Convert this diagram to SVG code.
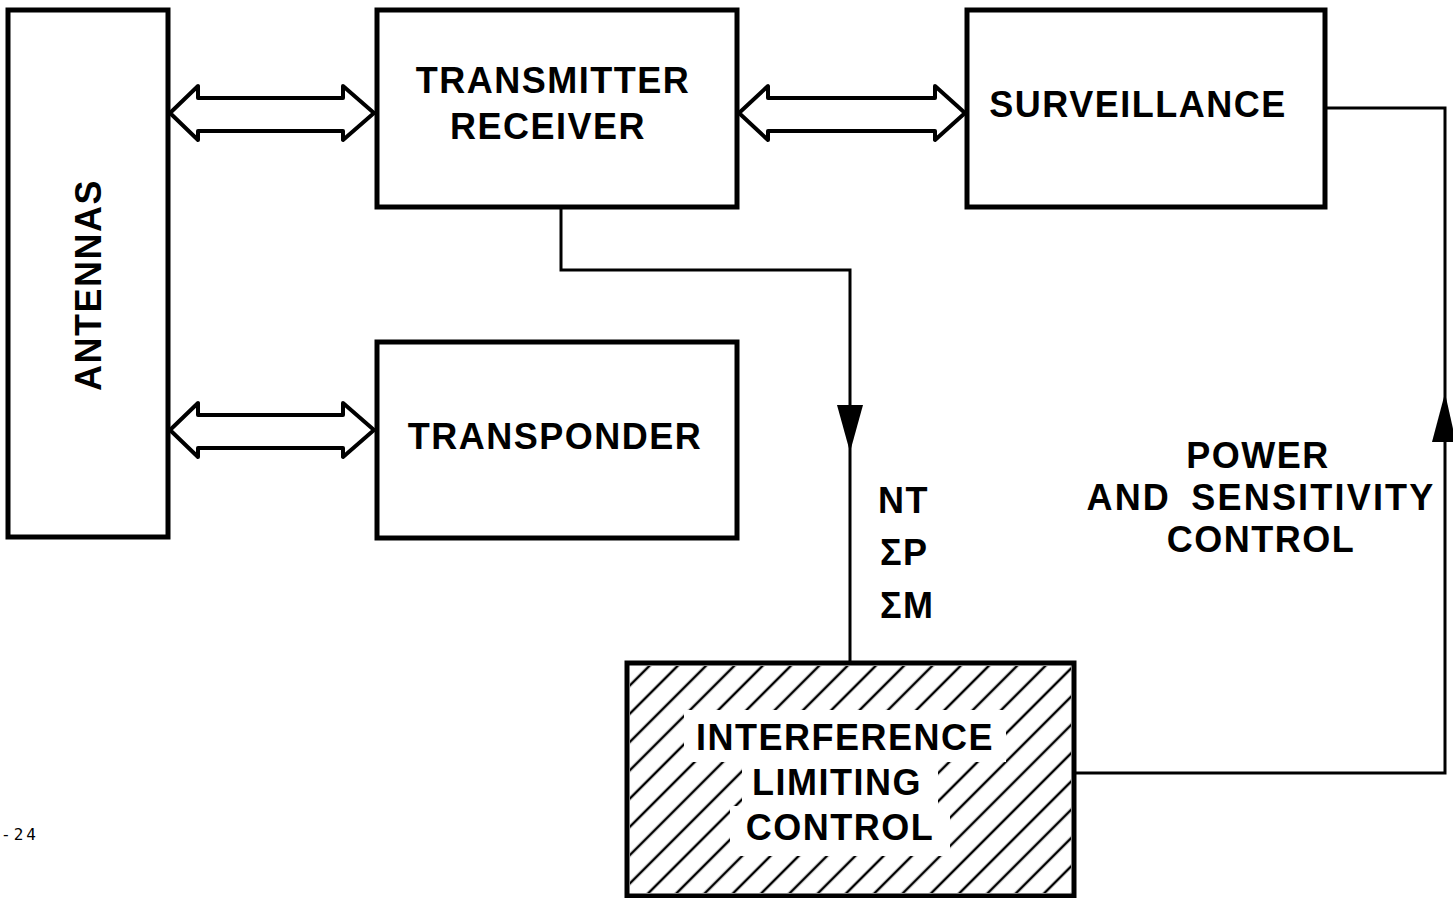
<svg xmlns="http://www.w3.org/2000/svg" width="1453" height="898" viewBox="0 0 1453 898">
<style>
.box{fill:#fff;stroke:#000;stroke-width:5}
.lbl{font-family:"Liberation Sans",Arial,sans-serif;font-weight:bold;font-size:36px;letter-spacing:1.5px;fill:#000;text-anchor:middle}
.dbl{fill:#fff;stroke:#000;stroke-width:4;stroke-linejoin:round}
.wire{fill:none;stroke:#000;stroke-width:3}
</style>
<defs>
<pattern id="hatch" patternUnits="userSpaceOnUse" width="20" height="20" patternTransform="rotate(45)">
<line x1="10" y1="0" x2="10" y2="20" stroke="#000" stroke-width="2.5"/>
</pattern>
</defs>
<rect width="1453" height="898" fill="#fff"/>
<g id="connectors">
<polygon class="dbl" points="170,113 198,86 198,98 343,98 343,86 374,113 343,140 343,131 198,131 198,140"/>
<polygon class="dbl" points="739,113 768,86 768,98 935,98 935,86 965,113 935,140 935,131 768,131 768,140"/>
<polygon class="dbl" points="170,430 198,403 198,415 343,415 343,403 374,430 343,457 343,448 198,448 198,457"/>
<polyline class="wire" points="561,207 561,270 850,270 850,663"/>
<polygon points="837,405 863,405 850,452" fill="#000"/>
<polyline class="wire" points="1325,108 1445,108 1445,773 1074,773"/>
<polygon points="1432,442 1456,442 1445,393" fill="#000"/>
</g>
<g id="antennas">
<rect class="box" x="8" y="10" width="160" height="527"/>
<text class="lbl" transform="translate(101,285) rotate(-90)">ANTENNAS</text>
</g>
<g id="transmitter-receiver">
<rect class="box" x="377" y="10" width="360" height="197"/>
<text class="lbl" x="553" y="93">TRANSMITTER</text>
<text class="lbl" x="548" y="139">RECEIVER</text>
</g>
<g id="surveillance">
<rect class="box" x="967" y="10" width="358" height="197"/>
<text class="lbl" x="1138" y="117">SURVEILLANCE</text>
</g>
<g id="transponder">
<rect class="box" x="377" y="342" width="360" height="196"/>
<text class="lbl" x="555" y="449">TRANSPONDER</text>
</g>
<g id="interference-limiting-control">
<rect class="box" x="627" y="663" width="447" height="233"/>
<rect x="630" y="666" width="441" height="227" fill="url(#hatch)"/>
<rect x="684" y="710" width="322" height="52" fill="#fff"/>
<rect x="742" y="760" width="196" height="48" fill="#fff"/>
<rect x="730" y="806" width="220" height="50" fill="#fff"/>
<text class="lbl" x="845" y="750">INTERFERENCE</text>
<text class="lbl" x="837" y="795">LIMITING</text>
<text class="lbl" x="840" y="840">CONTROL</text>
</g>
<g id="labels">
<text class="lbl" x="878" y="513" style="text-anchor:start">NT</text>
<text class="lbl" x="880" y="565" style="text-anchor:start">ΣP</text>
<text class="lbl" x="880" y="618" style="text-anchor:start">ΣM</text>
<text class="lbl" x="1258" y="468">POWER</text>
<text class="lbl" x="1261" y="510" style="word-spacing:8px;letter-spacing:2.2px">AND SENSITIVITY</text>
<text class="lbl" x="1261" y="552">CONTROL</text>
<text x="1" y="840" font-family="DejaVu Sans Mono,monospace" font-size="16" letter-spacing="3">-24</text>
</g>
</svg>
